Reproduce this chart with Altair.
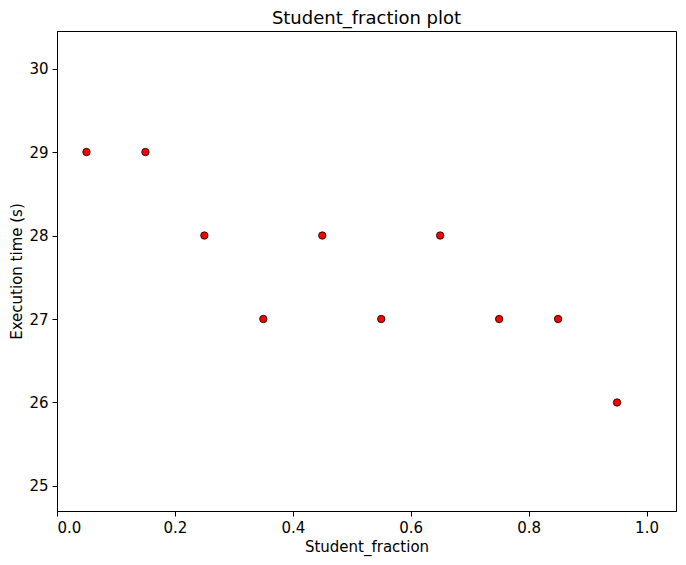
import altair as alt
import pandas as pd

student_fraction = [0.05, 0.15, 0.25, 0.35, 0.45, 0.55, 0.65, 0.75, 0.85, 0.95]
execution_time = [29, 29, 28, 27, 28, 27, 28, 27, 27, 26]

df = pd.DataFrame({"Student_fraction": student_fraction, "time": execution_time})

font = "DejaVu Sans"

chart = alt.Chart(df).mark_point(
    filled=True, fill="red", stroke="black", strokeWidth=0.8, size=55, opacity=1
).encode(
    x=alt.X("Student_fraction:Q",
            scale=alt.Scale(domain=[0, 1.05], nice=False, zero=False),
            axis=alt.Axis(values=[0, 0.2, 0.4, 0.6, 0.8, 1.0], format=".1f",
                          grid=False, title="Student_fraction")),
    y=alt.Y("time:Q",
            scale=alt.Scale(domain=[24.7, 30.45], nice=False, zero=False),
            axis=alt.Axis(values=[25, 26, 27, 28, 29, 30], grid=False,
                          title="Execution time (s)")),
).properties(
    width=619, height=480,
    title="Student_fraction plot",
    autosize=alt.AutoSizeParams(type="none"),
    padding={"left": 49, "top": 23, "right": 2, "bottom": 46},
).configure_view(
    stroke="black", strokeWidth=1
).configure_axis(
    labelFont=font, titleFont=font, labelFontSize=15, titleFontSize=15,
    titleFontWeight="normal", labelColor="black", titleColor="black",
    domainColor="black", tickColor="black", tickSize=5, labelPadding=4,
).configure_title(
    font=font, fontSize=18, fontWeight="normal", color="black", offset=3
)

chart.save("out.html", embed_options={"renderer": "svg", "actions": False})
